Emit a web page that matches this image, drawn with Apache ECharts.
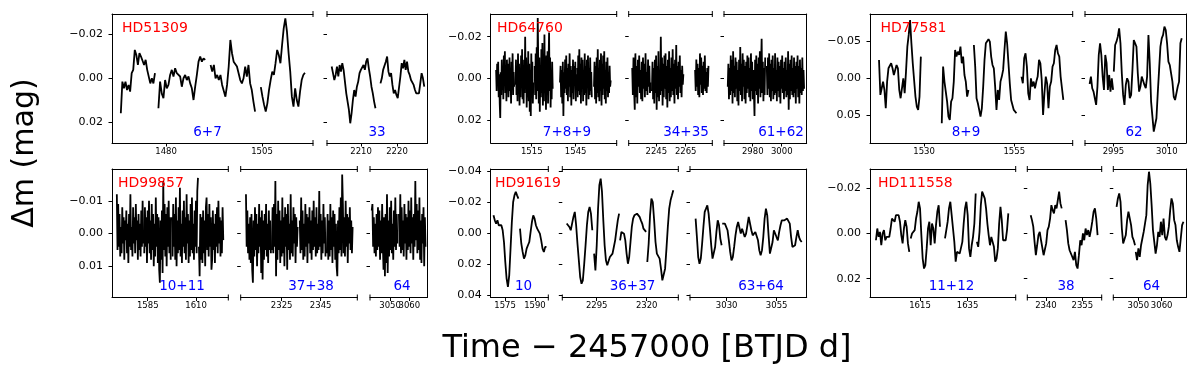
<!DOCTYPE html>
<html>
<head>
<meta charset="utf-8">
<title>TESS light curves</title>
<script src="https://cdn.jsdelivr.net/npm/echarts@6/dist/echarts.min.js"></script>
<style>
  html, body { margin: 0; padding: 0; background: #fff; }
  #lc { width: 1200px; height: 377px; }
</style>
</head>
<body>
<div id="lc"></div>
<script>
var FONT = 'DejaVu Sans';

// ---------- HD51309 (sectors 6+7, 33)
var hd51309_xr = [[1465.9, 1518.3], [2200.5, 2228.5]];
var hd51309_xt = [[1480, 1505], [2210, 2220]];
var hd51309_sec = ['6+7', '33'];
var hd51309_yr = [-0.029, 0.0292];
var hd51309_yt = [-0.02, 0, 0.02];
var hd51309_sub = [0, 0, 0, 0, 1, 1];
var hd51309_span = [[1468.2, 1477.1], [1478.0, 1490.2], [1491.6, 1503.2], [1504.7, 1516.2], [2201.8, 2214.0], [2215.4, 2227.6]];
var hd51309_dm = [
  [0.0158, 0.0015, 0.0045, 0.0015, 0.0053, 0.003, 0.006, -0.0023, -0.0038, -0.0128, -0.0105, -0.006, -0.0113, -0.0098, -0.0105, -0.006, -0.0083, -0.0038, -0.003, 0.0023, 0, 0.0023, -0.0023],
  [0.0135, 0.0015, 0.0068, 0.009, 0.0008, 0.0045, 0.003, -0.0015, -0.0038, -0.0008, -0.0045, -0.0023, -0.0015, -0.0008, 0.0038, 0, -0.0015, 0.0008, -0.0008, 0.0023, 0.0045, 0.0098, 0.0038, -0.0015, -0.0075, -0.0098, -0.0075, -0.009, -0.0083],
  [-0.006, -0.003, -0.006, 0, -0.0015, 0.0008, -0.0015, 0.003, 0.0023, 0.0083, 0.003, -0.0053, -0.0173, -0.0113, -0.0075, -0.0083, -0.0053, -0.0023, 0.0008, 0.0023, 0, -0.0053, -0.0008, -0.006, 0.0023, 0.0053, 0.0105, 0.015],
  [0.004, 0.0083, 0.012, 0.015, 0.0113, 0.0053, 0.0008, -0.003, -0.0015, -0.0068, -0.0128, -0.0105, -0.0068, -0.015, -0.0225, -0.027, -0.021, -0.0113, -0.003, 0.0083, 0.0128, 0.0045, 0.0098, 0.0128, 0.006, 0.0008, -0.0015, -0.0025],
  [-0.0053, -0.0023, 0.0008, -0.0015, -0.0053, -0.0008, -0.006, -0.003, -0.0068, -0.0038, 0.0015, 0.0068, 0.0105, 0.0143, 0.0203, 0.0158, 0.0098, 0.0053, 0.0083, 0.0038, 0.0015, -0.0023, -0.0038, -0.003, -0.006, -0.0038, -0.0075, -0.009, -0.0045, -0.0008, 0.0038, 0.0068, 0.0105, 0.0135],
  [0.0023, 0, -0.0038, -0.0045, -0.0075, -0.0098, -0.003, -0.0008, -0.0023, 0.003, 0.0068, 0.0053, 0.0075, 0.009, 0.0098, -0.0008, -0.0068, -0.0045, -0.0083, -0.0038, -0.0075, -0.003, -0.0015, 0.0008, 0.0015, 0.003, 0.0053, 0.0068, 0.0075, 0.0068, 0.006, -0.0023, 0, 0.0038]
];

// ---------- HD64760 (sectors 7+8+9, 34+35, 61+62)
var hd64760_xr = [[1487.0, 1573.0], [2226.2, 2283.1], [2960.2, 3017.2]];
var hd64760_xt = [[1515, 1545], [2245, 2265], [2980, 3000]];
var hd64760_sec = ['7+8+9', '34+35', '61+62'];
var hd64760_yr = [-0.0309, 0.031];
var hd64760_yt = [-0.02, 0, 0.02];
var hd64760_sub = [0, 0, 0, 0, 0, 0, 1, 1, 1, 2, 2];
var hd64760_span = [[1490.7, 1503.0], [1503.9, 1516.1], [1517.0, 1529.3], [1534.3, 1545.5], [1546.0, 1556.0], [1557.5, 1568.9],
  [2228.6, 2241.1], [2242.0, 2263.4], [2271.4, 2280.5], [2962.8, 2988.6], [2989.7, 3015.4]];
var hd64760_dm = [
  [-0.004, 0.006, -0.007, 0.003, -0.008, 0.009, -0.002, 0.012, 0.019, -0.003, 0.008, -0.009, 0.004, -0.006, 0.01, -0.011, 0.002, -0.013, 0.007, -0.005, 0.011, -0.009, 0.003, -0.007, 0.009, 0.001, -0.01, 0.006, -0.004, 0.012, -0.008, 0.005, -0.012, 0.008, -0.003, 0.004],
  [0.003, -0.009, 0.008, -0.004, 0.011, -0.012, 0.006, -0.007, 0.013, -0.003, 0.009, -0.011, 0.004, -0.014, 0.01, -0.006, 0.012, -0.009, 0.007, -0.02, 0.005, -0.01, 0.014, -0.005, 0.009, -0.013, 0.011, -0.007, 0.016, -0.004, 0.018, -0.012, 0.006, -0.008, 0.012, 0.002],
  [-0.006, 0.008, -0.012, 0.01, -0.015, 0.006, -0.029, -0.008, 0.012, -0.01, 0.016, -0.005, 0.009, -0.014, 0.007, -0.017, 0.013, -0.006, 0.011, -0.021, 0.004, -0.009, 0.015, -0.011, 0.008, -0.013, 0.012, -0.007, -0.022, 0.006, -0.01, 0.014, -0.004, 0.01, -0.008, 0.005],
  [0.002, -0.006, 0.009, -0.004, 0.012, -0.008, 0.018, -0.003, 0.007, -0.009, 0.005, -0.011, 0.008, -0.005, 0.011, -0.007, 0.004, -0.012, 0.009, -0.006, 0.013, -0.004, 0.007, -0.009, 0.01, -0.006, 0.003, -0.008, 0.011, -0.002],
  [-0.005, 0.009, -0.011, 0.006, -0.014, 0.008, -0.007, 0.012, -0.01, 0.005, -0.009, 0.011, -0.004, 0.008, -0.012, 0.007, -0.006, 0.013, -0.009, 0.004, -0.011, 0.01, -0.005, 0.008, -0.01, 0.006, -0.003, 0.009],
  [0.004, -0.008, 0.01, -0.006, 0.012, -0.01, 0.007, -0.014, 0.009, -0.005, 0.011, -0.009, 0.006, -0.012, 0.013, -0.007, 0.008, -0.011, 0.005, -0.013, 0.01, -0.004, 0.012, -0.008, 0.006, -0.01, 0.009, -0.003, 0.007, -0.006, 0.004, 0.001],
  [-0.005, 0.008, -0.01, 0.006, 0.015, -0.012, 0.009, -0.006, 0.012, -0.009, 0.004, -0.011, 0.007, -0.004, 0.01, -0.008, 0.011, -0.01, 0.005, -0.007, 0.009, -0.012, 0.006, -0.003, 0.008, -0.009, 0.004, -0.006, 0.007, 0.002],
  [0.006, -0.008, 0.01, -0.005, 0.012, -0.009, 0.007, -0.011, 0.015, -0.006, 0.009, -0.013, 0.011, -0.004, 0.008, -0.02, 0.006, -0.01, 0.013, -0.007, 0.009, -0.011, 0.005, -0.012, 0.01, -0.006, 0.014, -0.009, 0.007, -0.013, 0.011, -0.005, 0.009, -0.01, 0.006, -0.014, 0.008, -0.007, 0.012, -0.009, 0.005, -0.016, 0.008, -0.006, 0.01, -0.008, 0.004, -0.011, 0.007, -0.004, 0.009, -0.006, 0.003, -0.002],
  [-0.004, 0.006, -0.009, 0.004, -0.007, 0.008, -0.005, 0.009, -0.012, 0.003, -0.01, 0.007, -0.006, 0.008, -0.008, 0.005, -0.011, 0.006, -0.003, 0.007, -0.005, 0.004, -0.006],
  [0.004, -0.007, 0.01, -0.005, 0.008, -0.011, 0.006, -0.009, 0.012, -0.013, 0.007, -0.006, 0.009, -0.01, 0.005, -0.008, 0.011, -0.004, 0.013, -0.009, 0.006, -0.015, 0.008, -0.007, 0.011, -0.012, 0.004, -0.009, 0.01, -0.006, 0.012, -0.008, 0.007, -0.011, 0.005, -0.01, 0.009, -0.005, 0.011, -0.012, 0.006, -0.008, 0.01, -0.004, 0.007, 0.018, -0.009, 0.006, -0.011, 0.008, -0.007, 0.012, -0.01, 0.005, -0.013, 0.009, -0.006, -0.019, 0.007, -0.008, 0.011, -0.005, 0.008, -0.01],
  [-0.006, 0.008, -0.01, 0.005, -0.012, 0.009, -0.007, 0.011, -0.009, 0.006, -0.011, 0.01, -0.005, 0.008, -0.012, 0.007, -0.004, 0.011, -0.01, 0.006, -0.008, 0.009, -0.006, 0.012, -0.009, 0.005, -0.011, 0.007, -0.005, 0.01, -0.008, 0.006, -0.01, 0.009, -0.004, 0.008, -0.013, 0.015, -0.007, 0.01, -0.009, 0.006, -0.011, 0.008, -0.005, 0.009, -0.01, 0.007, -0.006, 0.012, -0.008, 0.005, -0.011, 0.009, -0.006, 0.012, -0.009, 0.007, -0.005, 0.008, -0.01, 0.006, -0.004, 0.005]
];

// ---------- HD77581 (sectors 8+9, 62)
var hd77581_xr = [[1515.0, 1571.2], [2987.0, 3015.4]];
var hd77581_xt = [[1530, 1555], [2995, 3010]];
var hd77581_sec = ['8+9', '62'];
var hd77581_yr = [-0.0869, 0.0875];
var hd77581_yt = [-0.05, 0, 0.05];
var hd77581_sub = [0, 0, 0, 0, 1, 1];
var hd77581_span = [[1517.5, 1529.1], [1534.9, 1542.3], [1543.8, 1555.6], [1557.0, 1568.6], [2988.3, 2994.9], [2995.1, 3014.2]];
var hd77581_dm = [
  [-0.0248, 0.0225, 0.0135, 0.0045, 0.0158, 0.0405, 0.0045, -0.0135, -0.0113, -0.0203, -0.0135, -0.0045, -0.0023, -0.018, -0.0135, 0.0158, 0.027, 0.0135, 0, 0.0203, -0.009, -0.0428, -0.0586, -0.0788, -0.0473, -0.0203, 0.0023, 0.0248, 0.0383, 0.0428, 0.0248, -0.0293],
  [0.0608, -0.0158, 0.0045, 0.0068, 0.0315, 0.0518, 0.0563, 0.0315, 0.027, 0.0045, -0.0383, -0.0293, -0.036, -0.0315, -0.0428, -0.0203, -0.0293, -0.0045, 0.0045, 0.0248, 0.0158],
  [-0.045, -0.0158, 0.027, 0.0338, 0.0428, 0.0518, 0.0405, 0.0113, -0.0248, -0.0473, -0.0495, -0.0527, -0.0495, -0.0293, -0.018, -0.0135, 0.0113, 0.0428, 0.0158, 0.0293, 0.0045, -0.0023, -0.0113, -0.0383, -0.063, -0.0473, -0.0203, 0.0068, 0.0293, 0.036, 0.0428, 0.0428, 0.0473],
  [-0.0023, 0.0068, -0.027, -0.0338, -0.0158, 0.0203, 0.0293, 0, 0.0113, 0.0045, 0.0135, 0.0045, -0.0023, -0.0248, -0.0203, 0.0023, 0.0495, 0.0203, -0.0023, 0.0068, 0.0405, 0.0113, 0.0045, -0.0158, -0.0203, -0.0383, -0.045, -0.0338, -0.0293, -0.0023, 0.0135, 0.0293],
  [0.0077, -0.0023, 0.0135, 0.018, 0.027, 0.036, 0.0113, -0.0315, -0.0473, -0.0315, -0.0023, 0.0158, -0.0315, -0.0203, 0.0158, -0.0045, 0.018, 0, 0.0158],
  [-0.009, -0.045, -0.0495, -0.0563, -0.0676, -0.0473, -0.0068, 0.0225, 0.036, 0.009, 0, 0.0045, 0.027, 0.0225, -0.0113, -0.0518, -0.054, -0.0428, -0.0068, 0.018, 0.0113, -0.0023, -0.0045, 0.009, 0.0135, -0.0023, -0.0586, -0.0203, 0.0315, 0.0518, 0.0721, 0.0698, 0.054, 0.0203, -0.0113, -0.0428, -0.054, -0.0586, -0.0698, -0.0653, -0.0473, -0.0225, -0.018, -0.0203, 0.0045, 0.0248, 0.0293, 0.0284, 0.0113, 0.0045, -0.0473, -0.054]
];

// ---------- HD99857 (sectors 10+11, 37+38, 64)
var hd99857_xr = [[1566.5, 1626.7], [2304.0, 2363.8], [3039.6, 3069.3]];
var hd99857_xt = [[1585, 1610], [2325, 2345], [3050, 3060]];
var hd99857_sec = ['10+11', '37+38', '64'];
var hd99857_yr = [-0.0197, 0.0195];
var hd99857_yt = [-0.01, 0, 0.01];
var hd99857_sub = [0, 0, 0, 0, 1, 1, 1, 1, 2, 2];
var hd99857_span = [[1569.0, 1582.7], [1583.2, 1596.9], [1597.5, 1611.0], [1611.5, 1624.1],
  [2306.7, 2319.5], [2320.0, 2333.2], [2334.3, 2347.5], [2348.2, 2361.4], [3040.5, 3053.8], [3054.6, 3068.4]];
var hd99857_dm = [
  [-0.012, 0.005, -0.009, 0.004, -0.006, 0.007, -0.002, 0.006, -0.008, 0.003, -0.005, 0.008, -0.004, 0.002, -0.007, 0.006, -0.003, 0.009, -0.006, 0.004, -0.012, 0.005, -0.002, 0.007, -0.008, 0.003, -0.005, 0.006, -0.009, 0.002, -0.004, 0.008, -0.006, 0.005, -0.003, 0.007, -0.007, 0.004, -0.01, 0.003],
  [0.006, -0.008, 0.004, -0.005, 0.009, -0.007, 0.003, -0.01, 0.006, -0.004, 0.008, -0.009, 0.005, -0.006, 0.01, -0.003, 0.007, -0.011, 0.004, -0.006, 0.009, -0.005, 0.011, 0.015, -0.004, 0.008, -0.007, 0.012, -0.016, 0.005, -0.009, 0.007, -0.006, 0.01, -0.008, 0.004, -0.01, 0.006, -0.005, 0.008],
  [-0.005, 0.007, -0.009, 0.004, -0.006, 0.008, -0.011, 0.01, -0.004, 0.006, -0.008, 0.005, -0.014, 0.007, -0.003, 0.009, -0.007, 0.004, -0.01, 0.006, -0.005, 0.008, -0.012, 0.003, -0.006, 0.009, -0.004, 0.007, -0.009, 0.005, -0.011, 0.006, -0.003, 0.008, -0.007, 0.004, -0.01, 0.006, -0.013, -0.017],
  [0.004, 0.013, -0.006, 0.008, -0.005, 0.009, -0.007, 0.006, -0.004, 0.01, -0.008, -0.011, 0.005, -0.006, 0.007, -0.009, 0.004, -0.005, 0.011, 0.008, -0.007, 0.005, -0.003, 0.009, -0.006, 0.004, -0.008, 0.006, -0.01, 0.003, -0.005, 0.007, -0.004, 0.006, -0.008, 0.002],
  [-0.012, 0.004, -0.007, 0.006, -0.003, 0.008, -0.005, 0.009, -0.006, 0.011, 0.015, -0.004, 0.007, -0.008, 0.005, -0.006, 0.01, -0.003, 0.006, -0.009, 0.004, -0.005, 0.012, -0.007, 0.014, -0.004, 0.008, -0.006, 0.005, -0.009, 0.007, -0.003, 0.009, -0.007, 0.005, -0.004, 0.006],
  [0.005, -0.008, 0.006, -0.009, 0.004, -0.016, 0.013, -0.006, 0.008, -0.01, 0.005, -0.007, 0.009, -0.004, 0.007, -0.011, 0.006, -0.005, 0.01, -0.008, 0.004, -0.006, 0.011, -0.009, 0.005, -0.003, 0.008, -0.012, 0.006, -0.004, 0.007, -0.008, 0.003, -0.006, 0.009, -0.005, 0.004, -0.002],
  [-0.004, 0.006, -0.011, 0.005, -0.007, 0.008, -0.003, 0.007, -0.009, 0.004, -0.006, 0.009, -0.005, 0.003, -0.008, 0.006, -0.004, 0.008, -0.007, 0.005, -0.01, 0.004, -0.005, 0.007, -0.008, 0.006, -0.003, 0.005, -0.013, 0.004, -0.006, 0.008, -0.004, 0.006, -0.009, 0.003, -0.005, 0.007],
  [0.006, -0.006, 0.008, -0.004, 0.007, -0.009, 0.005, -0.005, 0.009, -0.007, 0.004, -0.006, 0.008, -0.003, 0.01, 0.013, -0.004, 0.006, -0.008, 0.005, -0.011, 0.007, -0.018, -0.009, 0.006, -0.005, 0.007, -0.01, 0.004, -0.006, 0.009, -0.005, 0.003, -0.008, 0.005, -0.004, 0.006, -0.002],
  [-0.007, -0.009, 0.004, -0.005, 0.006, -0.003, 0.007, -0.006, 0.005, -0.008, 0.004, -0.007, 0.008, -0.004, 0.006, -0.009, 0.003, 0.011, -0.005, 0.013, -0.006, 0.009, -0.012, 0.012, -0.004, 0.007, -0.008, 0.005, -0.01, 0.006, -0.003, 0.008, -0.007, 0.004, -0.011, 0.005, -0.006, 0.003],
  [-0.006, 0.004, -0.012, 0.006, -0.008, 0.005, -0.004, 0.007, -0.009, 0.003, -0.006, 0.008, -0.005, 0.005, -0.01, 0.004, -0.007, 0.006, -0.011, 0.003, -0.005, 0.008, -0.006, 0.004, -0.016, 0.002, -0.009, 0.006, -0.007, 0.005, -0.011, 0.008, -0.004, 0.009, -0.006, 0.003, -0.008, 0.01, -0.005, 0.004]
];

// ---------- HD91619 (sectors 10, 36+37, 63+64)
var hd91619_xr = [[1567.8, 1596.7], [2277.8, 2335.8], [3011.7, 3070.0]];
var hd91619_xt = [[1575, 1590], [2295, 2320], [3030, 3055]];
var hd91619_sec = ['10', '36+37', '63+64'];
var hd91619_yr = [-0.0417, 0.0412];
var hd91619_yt = [-0.04, -0.02, 0, 0.02, 0.04];
var hd91619_sub = [0, 0, 1, 1, 1, 1, 2, 2];
var hd91619_span = [[1569.2, 1581.7], [1582.5, 1595.8], [2280.0, 2292.8], [2293.7, 2306.2], [2306.7, 2319.7], [2320.3, 2333.3], [3014.5, 3027.5], [3027.8, 3067.5]];
var hd91619_dm = [
  [-0.0118, -0.0086, -0.0065, -0.0086, -0.0054, -0.0043, -0.0054, -0.0022, 0.0054, 0.0183, 0.029, 0.0344, 0.0269, 0.0097, -0.0075, -0.0204, -0.0247, -0.0269, -0.0247, -0.0226],
  [-0.0032, 0.0065, 0.0118, 0.0161, 0.014, 0.0097, 0.0075, 0.0054, -0.0011, -0.0075, -0.0118, -0.0097, -0.0054, -0.0032, -0.0022, 0, 0.0043, 0.0097, 0.0118, 0.0086, 0.0086],
  [-0.0065, -0.0054, -0.0043, -0.0022, -0.0065, -0.0108, -0.014, -0.0054, 0.0065, 0.0172, 0.028, 0.0323, 0.0301, 0.0194, 0.0075, -0.0054, -0.014, -0.0172, -0.0129, -0.0022],
  [0.0129, 0.0237, 0.0075, -0.0161, -0.0312, -0.0355, -0.0269, -0.0086, 0.0075, 0.0172, 0.0204, 0.0194, 0.0151, 0.0144, 0.0129, 0.0086, 0.0043, -0.0022, -0.0086, -0.0129],
  [0.0043, -0.0011, -0.0022, 0, 0.0043, 0.0129, 0.0194, 0.0151, 0.0054, -0.0043, -0.0097, -0.0118, -0.0129, -0.0129, -0.0118, -0.0108, -0.0086, -0.0065, -0.0032, -0.0022, -0.0011],
  [0.0183, 0.0065, -0.0118, -0.0226, -0.0204, -0.0086, 0.0054, 0.0129, 0.014, 0.0161, 0.0226, 0.0301, 0.0312, 0.0226, 0.0097, -0.0043, -0.0161, -0.0215, -0.0247, -0.028],
  [-0.0097, 0.0022, 0.0151, 0.0194, 0.0161, 0.0065, -0.0043, -0.014, -0.0161, -0.0183, -0.0129, -0.0032, 0.0075, 0.0161, 0.0172, 0.0086, -0.0011, -0.0086, -0.0054, 0.0032, 0.0075],
  [-0.0065, -0.0075, -0.0065, -0.0065, -0.0022, 0.0043, 0.0118, 0.0172, 0.0151, 0.0086, 0.0011, -0.0043, -0.0075, -0.0065, 0, -0.0032, -0.0022, 0.0022, 0, -0.0054, -0.0108, -0.0097, -0.0022, 0.0011, 0.0011, -0.0011, 0, 0.0043, 0.0108, 0.014, 0.0108, 0.0022, -0.0097, -0.0161, -0.0118, 0.0011, 0.0129, 0.014, 0.0054, -0.0022, -0.0032, 0.0022, 0.0043, -0.0011, -0.0054, -0.0086, -0.0097, -0.0086, -0.0075, -0.0097, -0.0108, -0.0065, 0.0022, 0.0086, 0.0097, 0.0075, 0.0022, -0.0022, 0.0022, 0.0043, 0.0054]
];

// ---------- HD111558 (sectors 11+12, 38, 64)
var hd111558_xr = [[1594.0, 1655.2], [2332.3, 2363.0], [3039.3, 3070.4]];
var hd111558_xt = [[1615, 1635], [2340, 2355], [3050, 3060]];
var hd111558_sec = ['11+12', '38', '64'];
var hd111558_yr = [-0.0285, 0.0283];
var hd111558_yt = [-0.02, 0, 0.02];
var hd111558_sub = [0, 0, 0, 0, 1, 1, 2, 2];
var hd111558_span = [[1596.5, 1610.5], [1611.1, 1623.4], [1625.5, 1638.4], [1638.9, 1652.1], [2333.7, 2346.5], [2348.1, 2361.3], [3040.7, 3048.6], [3048.9, 3069.3]];
var hd111558_dm = [
  [0.003, -0.0022, 0.0015, -0.0007, 0.0052, 0, -0.0015, 0.003, 0.0015, 0.0007, 0.0015, -0.0022, -0.0066, -0.0074, -0.0052, -0.0081, -0.0089, -0.0081, -0.0052, 0.0007, 0.0044, -0.0022, -0.0059, -0.003, 0.0044, 0.0081],
  [0.0022, 0, 0.0007, -0.0015, -0.0066, -0.0096, -0.014, -0.0111, 0.0007, 0.0111, 0.0155, 0.014, 0.0066, -0.0022, -0.0052, 0.0052, -0.0044, -0.0022, 0.0044, -0.0037, -0.0096, -0.0125, -0.003],
  [0.0022, 0.0015, -0.0052, -0.0111, -0.014, -0.0081, -0.0022, 0.0037, 0.0125, 0.0081, 0.0089, 0.0089, 0.0096, 0.0037, -0.0044, -0.0111, -0.014, -0.0081, 0.0066, 0.0103, 0.0052, 0.0015, -0.0044, -0.0177],
  [0.0037, 0.0059, -0.0007, -0.0125, -0.0185, -0.0192, -0.0155, -0.0111, -0.0044, 0.0007, 0.0052, 0.0015, 0.0022, 0.0059, 0.0125, 0.0111, 0.0066, -0.0044, -0.0118, -0.0059, 0.003, 0.0037, 0.003, -0.0015, -0.0089],
  [-0.0081, -0.0059, -0.003, 0.0037, 0.0096, 0.0052, 0.0007, -0.0007, 0.003, 0.003, 0.0096, 0.0103, 0.0044, -0.0015, -0.003, -0.0066, -0.0125, -0.0103, -0.0089, -0.0125, -0.0111, -0.0148, -0.0185, -0.0133, -0.0111],
  [-0.0059, -0.0015, 0.0044, 0.0074, 0.0066, 0.0103, 0.0118, 0.0081, 0.014, 0.0155, 0.0096, 0.003, 0.0052, 0, 0.003, -0.0022, 0.0007, -0.0015, 0.0015, -0.0015, -0.0052, -0.0096, -0.0111, -0.0066, 0.0007],
  [-0.0118, -0.0155, -0.0177, -0.014, -0.0022, 0.0044, 0.0052, 0.0007, -0.0059, -0.0096, -0.0089, -0.0037, 0.0015, 0.003, 0.0052],
  [0.0081, 0.0118, 0.0066, 0.0103, 0.0052, 0.0022, -0.0007, -0.0015, -0.0081, -0.0214, -0.0273, -0.0221, -0.0125, -0.0015, 0.0037, 0.0089, 0.0052, -0.0007, 0.0015, -0.0052, 0.0007, -0.0066, 0.0015, 0.003, 0.0007, -0.003, -0.0103, -0.0155, -0.0133, -0.0059, -0.0037, 0.003, 0.0059, 0.0081, 0.0022, -0.0037, -0.0052]
];

var stars = [
  {name: 'HD51309', xr: hd51309_xr, xt: hd51309_xt, sec: hd51309_sec, yr: hd51309_yr, yt: hd51309_yt, sub: hd51309_sub, span: hd51309_span, dm: hd51309_dm},
  {name: 'HD64760', xr: hd64760_xr, xt: hd64760_xt, sec: hd64760_sec, yr: hd64760_yr, yt: hd64760_yt, sub: hd64760_sub, span: hd64760_span, dm: hd64760_dm},
  {name: 'HD77581', xr: hd77581_xr, xt: hd77581_xt, sec: hd77581_sec, yr: hd77581_yr, yt: hd77581_yt, sub: hd77581_sub, span: hd77581_span, dm: hd77581_dm},
  {name: 'HD99857', xr: hd99857_xr, xt: hd99857_xt, sec: hd99857_sec, yr: hd99857_yr, yt: hd99857_yt, sub: hd99857_sub, span: hd99857_span, dm: hd99857_dm},
  {name: 'HD91619', xr: hd91619_xr, xt: hd91619_xt, sec: hd91619_sec, yr: hd91619_yr, yt: hd91619_yt, sub: hd91619_sub, span: hd91619_span, dm: hd91619_dm},
  {name: 'HD111558', xr: hd111558_xr, xt: hd111558_xt, sec: hd111558_sec, yr: hd111558_yr, yt: hd111558_yt, sub: hd111558_sub, span: hd111558_span, dm: hd111558_dm}
];

// pixel layout of every panel: box top/bottom, sub-axes left/right, label spots
var layout = [
  {top: 14, bottom: 143, subs: [[112, 313], [327, 427.5]], nameX: 122, secX: [207.5, 377]},
  {top: 14, bottom: 143, subs: [[490.7, 616.7], [628.7, 712.3], [724, 806.7]], nameX: 497, secX: [567, 686, 781]},
  {top: 14, bottom: 143, subs: [[870, 1072.7], [1085, 1186]], nameX: 880.5, secX: [966, 1134]},
  {top: 169, bottom: 297.5, subs: [[112, 228.3], [240.7, 357.3], [370, 427.3]], nameX: 118, secX: [182, 311, 402]},
  {top: 169, bottom: 297.5, subs: [[490.7, 548.3], [562.3, 678.3], [690, 806.7]], nameX: 495, secX: [523.5, 632.5, 761]},
  {top: 169, bottom: 297.5, subs: [[870, 1015.7], [1027.3, 1101.7], [1113.3, 1186]], nameX: 878, secX: [951.5, 1066, 1151.5]}
];

var spine = {color: '#000', width: 1};
function magFmt(v) { return (v < 0 ? '\u2212' : '') + Math.abs(v).toFixed(2); }
function dayFmt(v) { return String(Math.round(v)); }

var grids = [], xAxes = [], yAxes = [], series = [], graphics = [];

function breakMark(x, y) {
  graphics.push({type: 'line', silent: true, z: 20,
    shape: {x1: x, y1: y - 3, x2: x, y2: y + 3},
    style: {stroke: '#000', lineWidth: 1}});
}

function xLabel(vals) {
  return {show: true, customValues: vals, formatter: dayFmt, hideOverlap: false,
    showMinLabel: true, showMaxLabel: true,
    fontSize: 8.5, fontFamily: FONT, color: '#000', margin: 4};
}

stars.forEach(function (s, p) {
  var L = layout[p];
  var base = grids.length;
  var n = L.subs.length;
  L.subs.forEach(function (b, j) {
    var g = grids.length;
    var ticks = s.xt[j];
    grids.push({left: b[0], top: L.top, width: b[1] - b[0], height: L.bottom - L.top, outerBoundsMode: 'none'});
    // bottom axis: spine, ticks and the first tick label
    xAxes.push({type: 'value', gridIndex: g, position: 'bottom', min: s.xr[j][0], max: s.xr[j][1],
      axisLine: {show: true, onZero: false, lineStyle: spine},
      axisTick: {show: true, length: 3.5, customValues: ticks, lineStyle: spine},
      axisLabel: xLabel(ticks.slice(0, 1)),
      splitLine: {show: false}});
    // top spine
    xAxes.push({type: 'value', gridIndex: g, position: 'top', min: s.xr[j][0], max: s.xr[j][1],
      axisLine: {show: true, onZero: false, lineStyle: spine},
      axisTick: {show: false}, axisLabel: {show: false}, splitLine: {show: false}});
    // second bottom axis carrying the remaining tick labels (kept even where they touch)
    xAxes.push({type: 'value', gridIndex: g, position: 'bottom', offset: 0, min: s.xr[j][0], max: s.xr[j][1],
      axisLine: {show: false, onZero: false}, axisTick: {show: false},
      axisLabel: xLabel(ticks.slice(1)),
      splitLine: {show: false}});
    // left: spine + labels only on the first sub-axis, ticks on all
    yAxes.push({type: 'value', gridIndex: g, position: 'left', inverse: true, min: s.yr[0], max: s.yr[1],
      axisLine: {show: j === 0, onZero: false, lineStyle: spine},
      axisTick: {show: true, length: 3.5, customValues: s.yt, lineStyle: spine},
      axisLabel: {show: j === 0, customValues: s.yt, formatter: magFmt, hideOverlap: false,
        showMinLabel: true, showMaxLabel: true,
        fontSize: 11, fontFamily: FONT, color: '#000', margin: 9},
      splitLine: {show: false}});
    // right spine only on the last sub-axis
    yAxes.push({type: 'value', gridIndex: g, position: 'right', inverse: true, min: s.yr[0], max: s.yr[1],
      axisLine: {show: j === n - 1, onZero: false, lineStyle: spine},
      axisTick: {show: false}, axisLabel: {show: false}, splitLine: {show: false}});

    if (j < n - 1) { breakMark(b[1], L.top); breakMark(b[1], L.bottom); }
    if (j > 0) { breakMark(b[0], L.top); breakMark(b[0], L.bottom); }

    graphics.push({type: 'text', silent: true, z: 30, x: L.secX[j], y: L.bottom - 11,
      style: {text: s.sec[j], fill: '#0000ff', font: '13.5px "DejaVu Sans"', align: 'center', verticalAlign: 'middle'}});
  });

  s.dm.forEach(function (vals, k) {
    var g = base + s.sub[k];
    var t0 = s.span[k][0], t1 = s.span[k][1];
    var dt = (t1 - t0) / (vals.length - 1);
    series.push({type: 'line', xAxisIndex: 3 * g, yAxisIndex: 2 * g, silent: true,
      symbol: 'none', showSymbol: false, z: 3,
      lineStyle: {color: '#000', width: 1.8},
      data: vals.map(function (v, i) { return [t0 + i * dt, v]; })});
  });

  graphics.push({type: 'text', silent: true, z: 30, x: L.nameX, y: L.top + 14.3,
    style: {text: s.name, fill: '#ff0000', font: '14px "DejaVu Sans"', align: 'left', verticalAlign: 'middle'}});
});

// axis titles
graphics.push({type: 'text', silent: true, x: 25, y: 153, rotation: Math.PI / 2,
  style: {text: '\u0394m (mag)', fill: '#000', font: '30px "DejaVu Sans"', align: 'center', verticalAlign: 'middle'}});
graphics.push({type: 'text', silent: true, x: 647, y: 349,
  style: {text: 'Time \u2212 2457000 [BTJD d]', fill: '#000', font: '32px "DejaVu Sans"', align: 'center', verticalAlign: 'middle'}});

var chart = echarts.init(document.getElementById('lc'));
chart.setOption({
  animation: false,
  backgroundColor: '#fff',
  textStyle: {fontFamily: FONT},
  grid: grids,
  xAxis: xAxes,
  yAxis: yAxes,
  series: series,
  graphic: graphics
});
</script>
</body>
</html>
